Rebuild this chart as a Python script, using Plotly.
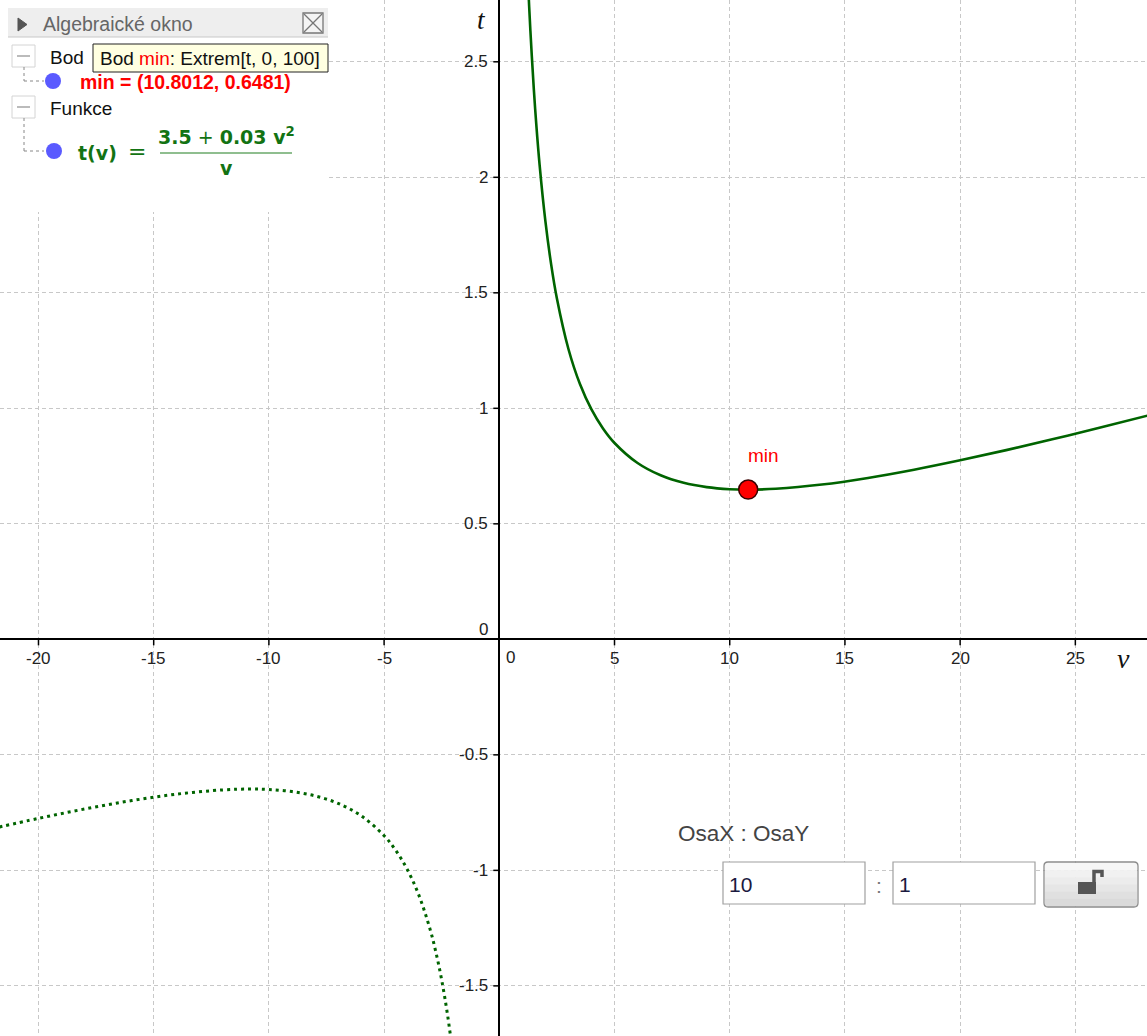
import plotly.graph_objects as go

W, H = 1147, 1036

# ---------------- data ----------------
v_pos = [1.15, 1.25, 1.35, 1.5, 1.6, 1.75, 2, 2.25, 2.5, 3, 3.5, 4, 4.5, 5, 6, 7, 8, 9,
         10, 10.8, 12, 14, 16, 18, 20, 22, 24, 26, 28.5]
t_pos = [3.078, 2.8375, 2.6331, 2.3783, 2.2355, 2.0525, 1.81, 1.6231, 1.475, 1.2567,
         1.105, 0.995, 0.9128, 0.85, 0.7633, 0.71, 0.6775, 0.6589, 0.65, 0.6481,
         0.6517, 0.67, 0.6988, 0.7344, 0.775, 0.8191, 0.8658, 0.9146, 0.9778]

v_neg = [-22, -20, -18, -16, -14, -12, -10.8, -10, -9, -8, -7, -6, -5, -4.5, -4,
         -3.5, -3, -2.75, -2.5, -2.25, -2, -1.9]
t_neg = [-0.8191, -0.775, -0.7344, -0.6988, -0.67, -0.6517, -0.6481, -0.65, -0.6589,
         -0.6775, -0.71, -0.7633, -0.85, -0.9128, -0.995, -1.105, -1.2567, -1.3552,
         -1.475, -1.6231, -1.81, -1.899]

min_v = [10.8012]
min_t = [0.6481]

x_ticks = [-20, -15, -10, -5, 5, 10, 15, 20, 25]
x_tick_labels = ["-20", "-15", "-10", "-5", "5", "10", "15", "20", "25"]
y_ticks = [-1.5, -1, -0.5, 0.5, 1, 1.5, 2, 2.5]
y_tick_labels = ["-1.5", "-1", "-0.5", "0.5", "1", "1.5", "2", "2.5"]

X_RANGE = [-21.67, 28.11]
Y_RANGE = [-1.717, 2.7675]

GREEN = "rgb(0,100,0)"
TEXT_GREEN = "#137313"
RED = "#ff0000"
BLUE = "#5a5aff"
FONT = "Liberation Sans, Arial, sans-serif"


def px(x):
    return x / W


def py(y):
    return 1 - y / H


fig = go.Figure()

fig.add_trace(go.Scatter(
    x=v_neg, y=t_neg, mode="lines",
    line=dict(color=GREEN, width=3, dash="3px,4px", shape="spline"),
    hoverinfo="skip", showlegend=False))
fig.add_trace(go.Scatter(
    x=v_pos, y=t_pos, mode="lines",
    line=dict(color=GREEN, width=2.6, shape="spline"),
    hoverinfo="skip", showlegend=False))
fig.add_trace(go.Scatter(
    x=min_v, y=min_t, mode="markers",
    marker=dict(size=19, color=RED, line=dict(color="#3a0000", width=1.5)),
    hoverinfo="skip", showlegend=False))

shapes = []
annotations = []

# axis ticks (on the axes lines)
for xv in x_ticks:
    shapes.append(dict(type="line", xref="x", yref="y", x0=xv, x1=xv,
                       ysizemode="pixel", yanchor=0, y0=0, y1=-6,
                       line=dict(color="black", width=1.5)))
for yv in y_ticks:
    shapes.append(dict(type="line", xref="x", yref="y", y0=yv, y1=yv,
                       xsizemode="pixel", xanchor=0, x0=-6, x1=0,
                       line=dict(color="black", width=1.5)))

# tick labels
for xv, lab in zip(x_ticks, x_tick_labels):
    annotations.append(dict(x=xv, y=0, xref="x", yref="y", text=lab, showarrow=False,
                            yanchor="middle", yshift=-19,
                            font=dict(family=FONT, size=17, color="#222")))
for yv, lab in zip(y_ticks, y_tick_labels):
    annotations.append(dict(x=0, y=yv, xref="x", yref="y", text=lab, showarrow=False,
                            xanchor="right", yanchor="middle", xshift=-9,
                            font=dict(family=FONT, size=17, color="#222")))
annotations.append(dict(x=0, y=0, xref="x", yref="y", text="0", showarrow=False,
                        xanchor="left", yanchor="middle", xshift=5, yshift=-18,
                        font=dict(family=FONT, size=17, color="#222")))
annotations.append(dict(x=0, y=0, xref="x", yref="y", text="0", showarrow=False,
                        xanchor="right", yanchor="middle", xshift=-9, yshift=10,
                        font=dict(family=FONT, size=17, color="#222")))

# axis names
annotations.append(dict(x=0, y=py(20), xref="x", yref="paper", text="<i>t</i>",
                        showarrow=False, xshift=-18, yanchor="middle",
                        font=dict(family="Liberation Serif, serif", size=27, color="#111")))
annotations.append(dict(x=px(1132), y=0, xref="paper", yref="y", text="<i>v</i>",
                        showarrow=False, yshift=-19, yanchor="middle",
                        font=dict(family="Liberation Serif, serif", size=28, color="#111")))

# label of the extremum
annotations.append(dict(x=min_v[0], y=min_t[0], xref="x", yref="y", text="min",
                        showarrow=False, xanchor="left", yanchor="middle", xshift=-2, yshift=34,
                        font=dict(family=FONT, size=19, color=RED)))


# ---------------- helpers for the panels ----------------
def rect(x0, y0, x1, y1, fill, line_color=None, lw=1):
    return dict(type="rect", xref="paper", yref="paper", layer="above",
                x0=px(x0), x1=px(x1), y0=py(y1), y1=py(y0), fillcolor=fill,
                line=dict(color=line_color or fill, width=lw if line_color else 0))


def seg(x0, y0, x1, y1, color, lw=1, dash=None):
    d = dict(color=color, width=lw)
    if dash:
        d["dash"] = dash
    return dict(type="line", xref="paper", yref="paper", layer="above",
                x0=px(x0), x1=px(x1), y0=py(y0), y1=py(y1), line=d)


def path(points, color, lw=1, fill=None, close=False):
    p = "M " + " L ".join(f"{px(a):.6f},{py(b):.6f}" for a, b in points)
    if close:
        p += " Z"
    return dict(type="path", xref="paper", yref="paper", layer="above", path=p,
                fillcolor=fill if fill else "rgba(0,0,0,0)",
                line=dict(color=color, width=lw))


def circle(cx, cy, r, fill):
    return dict(type="circle", xref="paper", yref="paper", layer="above",
                x0=px(cx - r), x1=px(cx + r), y0=py(cy + r), y1=py(cy - r),
                fillcolor=fill, line=dict(color=fill, width=0))


def label(x, y, text, size, color, family=FONT, xanchor="left"):
    return dict(x=px(x), y=py(y), xref="paper", yref="paper", text=text,
                showarrow=False, xanchor=xanchor, yanchor="middle",
                font=dict(family=family, size=size, color=color))


# ---------------- algebra window (top left) ----------------
shapes.append(rect(0, 0, 328, 212, "white"))
shapes.append(rect(8, 8, 328, 37, "#eeeeee"))
shapes.append(seg(8, 37, 328, 37, "#c8c8c8", 1))
shapes.append(path([(18, 18), (27, 24.5), (18, 31)], "#555", 1, fill="#555", close=True))
# close icon
shapes.append(rect(303, 13, 323, 33, "#f4f4f4", "#777", 1.3))
shapes.append(seg(304, 14, 322, 32, "#777", 1.3))
shapes.append(seg(322, 14, 304, 32, "#777", 1.3))
annotations.append(label(41, 24, "Algebraické okno", 19.5, "#666"))

# collapse boxes
for y0 in (45, 96):
    shapes.append(rect(12, y0, 35, y0 + 22, "white", "#d4d4d4", 1))
    shapes.append(seg(17, y0 + 11, 30, y0 + 11, "#bbbbbb", 2))

# tree lines
shapes.append(seg(24, 67, 24, 81, "#888", 1, "dot"))
shapes.append(seg(24, 81, 44, 81, "#888", 1, "dot"))
shapes.append(seg(24, 118, 24, 151, "#888", 1, "dot"))
shapes.append(seg(24, 151, 44, 151, "#888", 1, "dot"))
shapes.append(circle(53, 81, 8, BLUE))
shapes.append(circle(54, 151, 8, BLUE))

annotations.append(label(48, 57, "Bod", 19, "#111"))
# tooltip
shapes.append(rect(93, 44, 328, 72, "#ffffe1", "#222", 1))
annotations.append(label(98, 59,
                         "Bod <span style='color:#ff0000'>min</span>: Extrem[t, 0, 100]",
                         19, "#111"))
annotations.append(label(78, 82, "<b>min = (10.8012, 0.6481)</b>", 19.5, RED))
annotations.append(label(48, 108, "Funkce", 19, "#111"))
# formula  t(v) = (3.5 + 0.03 v^2) / v
DJ = "DejaVu Sans, sans-serif"
annotations.append(label(76, 153, "<b>t(v)</b>", 19, TEXT_GREEN, DJ))
annotations.append(label(137, 151, "=", 22, TEXT_GREEN, DJ, "center"))
annotations.append(label(226, 136, "<b>3.5</b> + <b>0.03 v<sup>2</sup></b>", 19, TEXT_GREEN,
                         DJ, "center"))
shapes.append(seg(160, 153, 292, 153, "#6aa86a", 1.6))
annotations.append(label(226, 168, "<b>v</b>", 19, TEXT_GREEN, DJ, "center"))

# ---------------- axis ratio widget (bottom right) ----------------
annotations.append(label(676, 833, "OsaX : OsaY", 22.5, "#444"))
shapes.append(rect(723, 862, 865, 904, "white", "#a0a0a0", 1.2))
shapes.append(rect(893, 862, 1035, 904, "white", "#a0a0a0", 1.2))
annotations.append(label(727, 884, "10", 21, "#1a1a40"))
annotations.append(label(897, 884, "1", 21, "#1a1a40"))
annotations.append(label(879, 885, ":", 21, "#777", FONT, "center"))
# button with gradient
grad = ["#f6f6f6", "#f1f1f1", "#ececec", "#e6e6e6", "#e0e0e0", "#dadada"]
bh = (906 - 863) / len(grad)
for i, c in enumerate(grad):
    shapes.append(rect(1045, 863 + i * bh, 1137, 863 + (i + 1) * bh + 0.5, c))
shapes.append(dict(type="path", xref="paper", yref="paper", layer="above",
                   path=(f"M {px(1048)},{py(862)} L {px(1134)},{py(862)} "
                         f"Q {px(1138)},{py(862)} {px(1138)},{py(866)} "
                         f"L {px(1138)},{py(903)} Q {px(1138)},{py(907)} {px(1134)},{py(907)} "
                         f"L {px(1048)},{py(907)} Q {px(1044)},{py(907)} {px(1044)},{py(903)} "
                         f"L {px(1044)},{py(866)} Q {px(1044)},{py(862)} {px(1048)},{py(862)} Z"),
                   fillcolor="rgba(0,0,0,0)", line=dict(color="#8c8c8c", width=1.3)))
# lock icon
shapes.append(rect(1078, 882, 1096, 894, "#555"))
shapes.append(path([(1094, 882), (1094, 871.5), (1102, 871.5), (1102, 877)], "#555", 3.5))

fig.update_layout(
    width=W, height=H,
    margin=dict(l=0, r=0, t=0, b=0),
    paper_bgcolor="white", plot_bgcolor="white",
    showlegend=False,
    xaxis=dict(range=X_RANGE, showticklabels=False, ticks="", showgrid=True,
               gridcolor="#c8c8c8", griddash="4px,3px", gridwidth=1, dtick=5, tick0=0,
               zeroline=True, zerolinecolor="black", zerolinewidth=1.6, showline=False,
               fixedrange=True),
    yaxis=dict(range=Y_RANGE, showticklabels=False, ticks="", showgrid=True,
               gridcolor="#c8c8c8", griddash="4px,3px", gridwidth=1, dtick=0.5, tick0=0,
               zeroline=True, zerolinecolor="black", zerolinewidth=1.6, showline=False,
               fixedrange=True),
    shapes=shapes,
    annotations=annotations,
)

fig.write_html("out.html", config={"displayModeBar": False},
               post_script="document.body.style.margin='0';")
